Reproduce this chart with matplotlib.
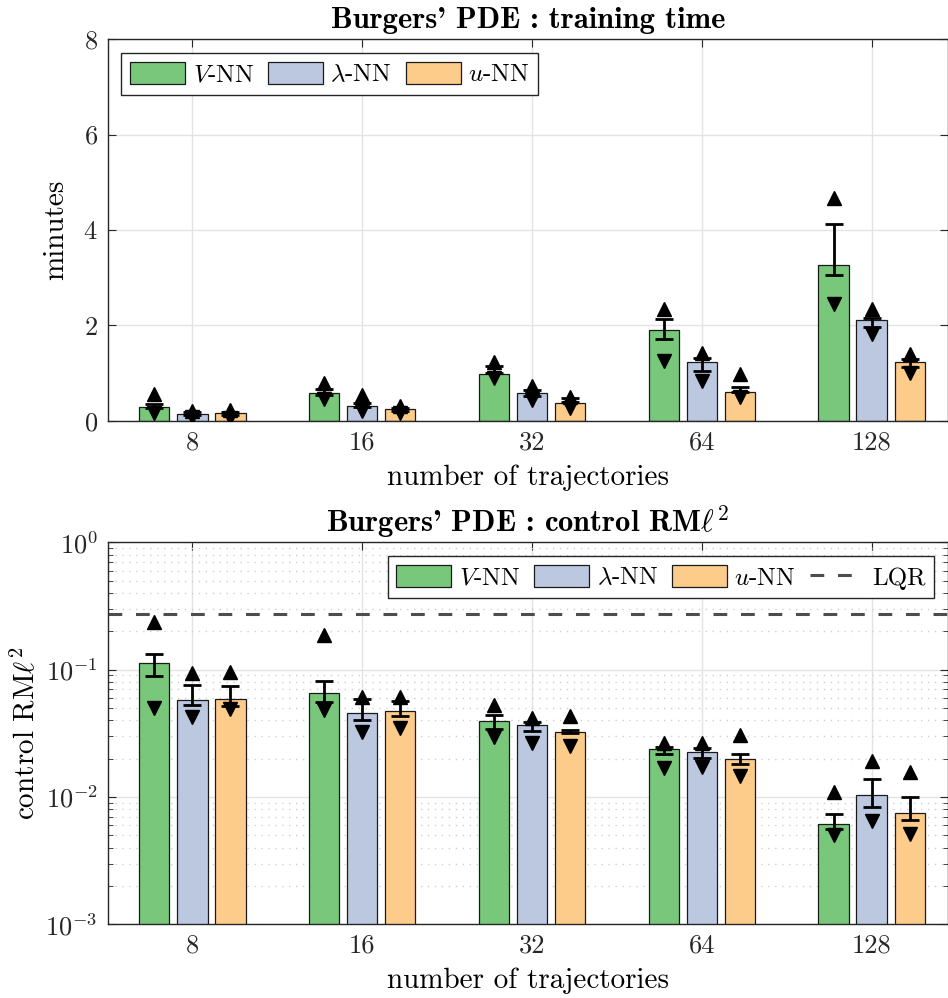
"""
Burgers' PDE benchmark: training time and control error per method.
"""

import matplotlib

matplotlib.use("Agg")

import matplotlib.pyplot as plt
import numpy as np
from matplotlib.ticker import FixedLocator, NullFormatter

plt.rcParams["font.family"] = ["cmr10", "DejaVu Serif"]
plt.rcParams["mathtext.fontset"] = "cm"
plt.rcParams["axes.formatter.use_mathtext"] = True
plt.rcParams["axes.unicode_minus"] = False

TICK_SIZE = 19
LABEL_SIZE = 21
TITLE_SIZE = 22
LEGEND_SIZE = 18

TRAJECTORIES = ["8", "16", "32", "64", "128"]
METHODS = [r"$V$-NN", r"$\lambda$-NN", r"$u$-NN"]
COLORS = ["#79C77B", "#BCC8E0", "#FDCB8A"]

# training time (minutes)
time_v = [0.30, 0.58, 0.98, 1.91, 3.27]
time_v_lo = [0.28, 0.55, 1.00, 1.72, 3.05]
time_v_hi = [0.36, 0.66, 1.15, 2.14, 4.13]
time_v_max = [0.56, 0.79, 1.24, 2.35, 4.66]
time_v_min = [0.17, 0.47, 0.89, 1.26, 2.45]

time_lam = [0.15, 0.32, 0.58, 1.23, 2.12]
time_lam_lo = [0.12, 0.29, 0.53, 1.04, 1.97]
time_lam_hi = [0.18, 0.38, 0.65, 1.32, 2.16]
time_lam_max = [0.21, 0.54, 0.73, 1.42, 2.34]
time_lam_min = [0.08, 0.21, 0.44, 0.84, 1.82]

time_u = [0.16, 0.24, 0.38, 0.61, 1.24]
time_u_lo = [0.13, 0.21, 0.40, 0.60, 1.13]
time_u_hi = [0.19, 0.27, 0.48, 0.71, 1.30]
time_u_max = [0.23, 0.31, 0.51, 0.98, 1.40]
time_u_min = [0.06, 0.16, 0.27, 0.51, 1.01]

# control RM l^2
ctrl_v = [0.112, 0.0652, 0.0397, 0.0237, 0.00614]
ctrl_v_lo = [0.0886, 0.0557, 0.0344, 0.0218, 0.00560]
ctrl_v_hi = [0.133, 0.0814, 0.0440, 0.0245, 0.00731]
ctrl_v_max = [0.238, 0.187, 0.0527, 0.0267, 0.0110]
ctrl_v_min = [0.0497, 0.0482, 0.0297, 0.0168, 0.00502]

ctrl_lam = [0.0574, 0.0454, 0.0367, 0.0227, 0.0104]
ctrl_lam_lo = [0.0527, 0.0404, 0.0330, 0.0202, 0.00834]
ctrl_lam_hi = [0.0753, 0.0588, 0.0390, 0.0241, 0.0139]
ctrl_lam_max = [0.0946, 0.0613, 0.0415, 0.0267, 0.0192]
ctrl_lam_min = [0.0427, 0.0322, 0.0264, 0.0173, 0.00651]

ctrl_u = [0.0585, 0.0476, 0.0326, 0.0197, 0.00744]
ctrl_u_lo = [0.0518, 0.0435, 0.0318, 0.0180, 0.00656]
ctrl_u_hi = [0.0744, 0.0567, 0.0335, 0.0216, 0.00993]
ctrl_u_max = [0.0964, 0.0613, 0.0433, 0.0307, 0.0158]
ctrl_u_min = [0.0488, 0.0346, 0.0251, 0.0146, 0.00509]

ctrl_lqr = 0.272

BAR_WIDTH = 0.178
BAR_STEP = 0.224


def style_axis(axis):
    """
    MATLAB-like boxed axis with inward ticks.
    """

    for spine in axis.spines.values():
        spine.set_color("#262626")
        spine.set_linewidth(1.0)
    axis.tick_params(
        which="both",
        direction="in",
        top=True,
        right=True,
        colors="#262626",
        labelsize=TICK_SIZE,
        pad=7,
    )
    axis.tick_params(which="major", length=6)
    axis.tick_params(which="minor", length=3.5)
    axis.set_axisbelow(True)


def draw_group(axis, series):
    """
    Bars with error bars and min/max triangles for each method.
    """

    x = np.arange(1, len(TRAJECTORIES) + 1)
    handles = []

    for index, (values, lo, hi, vmax, vmin) in enumerate(series):
        offset = (index - 1) * BAR_STEP
        positions = x + offset
        values = np.array(values)
        lo = np.array(lo)
        hi = np.array(hi)

        bars = axis.bar(
            positions,
            values,
            width=BAR_WIDTH,
            color=COLORS[index],
            edgecolor="#1a1a1a",
            linewidth=0.9,
            label=METHODS[index],
            zorder=2,
        )
        handles.append(bars)

        axis.errorbar(
            positions,
            (lo + hi) / 2,
            yerr=(hi - lo) / 2,
            fmt="none",
            ecolor="black",
            elinewidth=2.0,
            capsize=6.5,
            capthick=2.0,
            zorder=3,
        )
        axis.plot(
            positions, vmax, linestyle="none", marker="^",
            markersize=9.5, color="black", zorder=4,
        )
        axis.plot(
            positions, vmin, linestyle="none", marker="v",
            markersize=9.5, color="black", zorder=4,
        )

    axis.set_xticks(x)
    axis.set_xticklabels(TRAJECTORIES)
    axis.set_xlim(0.5, 5.45)

    return handles


def add_legend(axis, handles, loc, ncol):
    """
    Square-framed single-row legend.
    """

    axis.legend(
        handles=handles,
        loc=loc,
        ncol=ncol,
        fontsize=LEGEND_SIZE,
        frameon=True,
        fancybox=False,
        framealpha=1,
        edgecolor="#262626",
        handlelength=2.2,
        handleheight=1.0,
        handletextpad=0.3,
        columnspacing=0.55,
        borderpad=0.35,
        borderaxespad=0.55,
    )


figure = plt.figure(figsize=(9.48, 9.98), dpi=100)

axis_time = figure.add_axes([0.1134, 0.5782, 0.8866, 0.3827])
axis_ctrl = figure.add_axes([0.1134, 0.0739, 0.8866, 0.3827])

# training time panel
style_axis(axis_time)
handles = draw_group(
    axis_time,
    [
        (time_v, time_v_lo, time_v_hi, time_v_max, time_v_min),
        (time_lam, time_lam_lo, time_lam_hi, time_lam_max, time_lam_min),
        (time_u, time_u_lo, time_u_hi, time_u_max, time_u_min),
    ],
)
axis_time.set_ylim(0, 8)
axis_time.set_yticks([0, 2, 4, 6, 8])
axis_time.grid(True, which="major", color="#e3e3e3", linewidth=1.0)
axis_time.set_xlabel("number of trajectories", fontsize=LABEL_SIZE, labelpad=7)
axis_time.set_ylabel("minutes", fontsize=LABEL_SIZE, labelpad=10)
axis_time.set_title(
    "Burgers' PDE : training time",
    fontsize=TITLE_SIZE,
    fontfamily="cmb10",
    pad=8,
)
add_legend(axis_time, handles, "upper left", 3)

# control error panel
style_axis(axis_ctrl)
axis_ctrl.set_yscale("log")
handles = draw_group(
    axis_ctrl,
    [
        (ctrl_v, ctrl_v_lo, ctrl_v_hi, ctrl_v_max, ctrl_v_min),
        (ctrl_lam, ctrl_lam_lo, ctrl_lam_hi, ctrl_lam_max, ctrl_lam_min),
        (ctrl_u, ctrl_u_lo, ctrl_u_hi, ctrl_u_max, ctrl_u_min),
    ],
)
(lqr_line,) = axis_ctrl.plot(
    [0.5, 5.45],
    [ctrl_lqr, ctrl_lqr],
    linestyle=(0, (4.5, 4.5)),
    color="#4d4d4d",
    linewidth=2.2,
    label="LQR",
    zorder=2,
)
handles.append(lqr_line)

axis_ctrl.set_ylim(1e-3, 1e0)
axis_ctrl.set_yticks(
    [1e-3, 1e-2, 1e-1, 1e0],
    [r"$10^{-3}$", r"$10^{-2}$", r"$10^{-1}$", r"$10^{0}$"],
)
minor = [m * 10.0**e for e in (-3, -2, -1) for m in range(2, 10)]
axis_ctrl.yaxis.set_minor_locator(FixedLocator(minor))
axis_ctrl.yaxis.set_minor_formatter(NullFormatter())
axis_ctrl.grid(True, which="major", color="#e3e3e3", linewidth=1.0)
axis_ctrl.grid(
    True, which="minor", axis="y", color="#cfcfcf",
    linestyle=(0, (1, 4)), linewidth=1.0,
)
axis_ctrl.set_xlabel("number of trajectories", fontsize=LABEL_SIZE, labelpad=7)
axis_ctrl.set_ylabel(r"control RM$\ell^2$", fontsize=LABEL_SIZE, labelpad=4)
axis_ctrl.set_title(
    r"Burgers' PDE : control RM$\ell^2$",
    fontsize=TITLE_SIZE,
    fontfamily="cmb10",
    pad=8,
)
add_legend(axis_ctrl, handles, "upper right", 4)

figure.savefig("out.png", dpi=100)
plt.close(figure)
